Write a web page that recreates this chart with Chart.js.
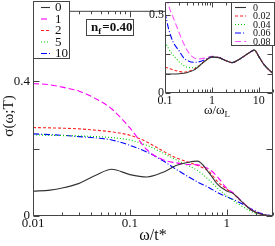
<!DOCTYPE html>
<html>
<head>
<meta charset="utf-8">
<script src="https://cdn.jsdelivr.net/npm/chart.js@4"></script>
<style>
  html, body { margin: 0; padding: 0; background: #fff; }
  #wrap { position: relative; width: 275px; height: 246px; }
  #wrap canvas { position: absolute; left: 0; top: 0; }
</style>
</head>
<body>
<div id="wrap">
  <canvas id="main" width="275" height="246"></canvas>
  <canvas id="inset" width="275" height="246"></canvas>
</div>
<script>
// ── DATA: main panel, sigma(omega;T) vs omega/t* ──
const omega = [0.01, 0.015, 0.02, 0.03, 0.045, 0.065, 0.1, 0.15, 0.22, 0.3, 0.4, 0.5, 0.65, 0.8, 1.0, 1.15, 1.4, 1.8, 2.3, 3];
const mainLabels = ['0', '1', '2', '5', '10'];
const sig0  = [0.074, 0.077, 0.083, 0.097, 0.122, 0.139, 0.123, 0.116, 0.130, 0.150, 0.160, 0.163, 0.130, 0.095, 0.074, 0.068, 0.045, 0.017, 0.005, 0.0];
const sig1  = [0.394, 0.390, 0.383, 0.371, 0.348, 0.318, 0.262, 0.197, 0.167, 0.158, 0.153, 0.152, 0.140, 0.117, 0.082, 0.070, 0.046, 0.018, 0.005, 0.0];
const sig2  = [0.263, 0.262, 0.261, 0.259, 0.255, 0.250, 0.240, 0.220, 0.193, 0.173, 0.160, 0.150, 0.133, 0.103, 0.080, 0.068, 0.045, 0.018, 0.005, 0.0];
const sig5  = [0.241, 0.240, 0.239, 0.238, 0.236, 0.233, 0.226, 0.210, 0.187, 0.167, 0.150, 0.135, 0.108, 0.083, 0.060, 0.047, 0.031, 0.013, 0.004, 0.0];
const sig10 = [0.244, 0.242, 0.240, 0.236, 0.232, 0.226, 0.210, 0.190, 0.164, 0.139, 0.117, 0.101, 0.085, 0.070, 0.057, 0.050, 0.038, 0.021, 0.007, 0.0];
const mainTickLabels = ['0.01', '0.1', '1'];
const mainYLabels = ['0', '0.4'];

// ── DATA: inset, omega/omega_L ──
const omegaL = [0.1, 0.12, 0.15, 0.2, 0.25, 0.3, 0.4, 0.5, 0.7, 1, 1.4, 2, 2.7, 4, 6, 8, 10, 13, 20];
const insetLabels = ['0', '0.02', '0.04', '0.06', '0.08'];
const ins0  = [0.073, 0.073, 0.073, 0.074, 0.076, 0.079, 0.087, 0.099, 0.122, 0.138, 0.136, 0.124, 0.117, 0.132, 0.153, 0.165, 0.140, 0.108, 0.075];
const ins2  = [0.100, 0.095, 0.089, 0.083, 0.080, 0.082, 0.090, 0.100, 0.122, 0.138, 0.136, 0.124, 0.117, 0.132, 0.153, 0.165, 0.140, 0.108, 0.075];
const ins4  = [0.196, 0.170, 0.145, 0.120, 0.106, 0.099, 0.097, 0.103, 0.122, 0.139, 0.136, 0.124, 0.117, 0.132, 0.153, 0.165, 0.140, 0.108, 0.075];
const ins6  = [0.310, 0.245, 0.195, 0.162, 0.135, 0.125, 0.118, 0.119, 0.127, 0.139, 0.136, 0.124, 0.117, 0.132, 0.153, 0.165, 0.140, 0.108, 0.075];
const ins8  = [0.400, 0.335, 0.290, 0.232, 0.190, 0.163, 0.137, 0.131, 0.134, 0.141, 0.137, 0.124, 0.117, 0.132, 0.153, 0.165, 0.140, 0.108, 0.075];
const insetTickLabels = ['0.1', '1', '10'];
const insetYLabels = ['0', '0.3'];

// ── STYLE ──
const SERIF = "'Liberation Serif', 'Times New Roman', serif";
const TXT = '#111';
const AX = '#444';
const mainStyles = [
  { color: '#333',    dash: [] },
  { color: '#ff00ff', dash: [6, 3] },
  { color: '#ff2020', dash: [3, 2] },
  { color: '#00d000', dash: [1, 2] },
  { color: '#0000ff', dash: [6, 2, 1, 2] }
];
const insetStyles = [
  { color: '#333',    dash: [] },
  { color: '#ff2020', dash: [3, 2] },
  { color: '#00d000', dash: [1, 2] },
  { color: '#0000ff', dash: [6, 2, 1, 2] },
  { color: '#ff55ff', dash: [6, 3] }
];

const isDecade = v => Math.abs(Math.log10(v) - Math.round(Math.log10(v))) < 1e-6;
const pickLabel = (list, v) => list.find(t => Math.abs(parseFloat(t) - v) < 1e-6) || '';

function makeSets(xs, series, labels, styles) {
  return series.map((s, i) => ({
    label: labels[i],
    data: xs.map((x, j) => ({ x, y: s[j] })),
    borderColor: styles[i].color,
    borderDash: styles[i].dash,
    borderWidth: 1.1,
    pointRadius: 0,
    fill: false,
    cubicInterpolationMode: 'monotone'
  }));
}

// frame + inward ticks on all four sides
function frameAndTicks(chart, yStep, majLen, minLen) {
  const { ctx, chartArea: a, scales: { x, y } } = chart;
  const L = a.left + 0.5, R = a.right - 0.5, T = a.top + 0.5, B = a.bottom - 0.5;
  ctx.save();
  ctx.strokeStyle = AX;
  ctx.lineWidth = 1;
  ctx.beginPath();
  ctx.rect(L, T, R - L, B - T);
  for (let e = Math.floor(Math.log10(x.min)); e <= Math.ceil(Math.log10(x.max)); e++) {
    for (let k = 1; k < 10; k++) {
      const v = k * Math.pow(10, e);
      if (v < x.min * 0.999 || v > x.max * 1.001) continue;
      const px = Math.round(x.getPixelForValue(v)) + 0.5;
      const len = k === 1 ? majLen : minLen;
      ctx.moveTo(px, B); ctx.lineTo(px, B - len);
      ctx.moveTo(px, T); ctx.lineTo(px, T + len);
    }
  }
  for (let v = y.min; v <= y.max + 1e-9; v += yStep) {
    const py = Math.round(y.getPixelForValue(v)) + 0.5;
    ctx.moveTo(L, py); ctx.lineTo(L + majLen, py);
    ctx.moveTo(R, py); ctx.lineTo(R - majLen, py);
  }
  ctx.stroke();
  ctx.restore();
}

function drawLegend(chart, box, rows, lineX, textX, font) {
  const { ctx } = chart;
  ctx.save();
  ctx.fillStyle = '#fff';
  ctx.fillRect(box.x, box.y, box.w, box.h);
  ctx.strokeStyle = AX;
  ctx.lineWidth = 1;
  ctx.strokeRect(box.x + 0.5, box.y + 0.5, box.w - 1, box.h - 1);
  ctx.font = font;
  ctx.textAlign = 'left';
  ctx.textBaseline = 'middle';
  ctx.fillStyle = TXT;
  chart.data.datasets.forEach((ds, i) => {
    const yy = rows[i];
    ctx.strokeStyle = ds.borderColor;
    ctx.lineWidth = ds.borderWidth;
    ctx.setLineDash(ds.borderDash || []);
    ctx.beginPath();
    ctx.moveTo(lineX[0], yy + 0.5);
    ctx.lineTo(lineX[1], yy + 0.5);
    ctx.stroke();
    ctx.setLineDash([]);
    ctx.fillText(ds.label, textX, yy + 1);
  });
  ctx.restore();
}

// ── MAIN CHART ──
const mainDecor = {
  id: 'mainDecor',
  afterDraw(chart) {
    frameAndTicks(chart, 0.2, 6, 3);
    drawLegend(chart, { x: 33, y: 1, w: 37, h: 58 }, [7, 18.5, 30, 41.5, 53], [41, 50], 55, '13px ' + SERIF);
    const { ctx } = chart;
    ctx.save();
    // n_f box
    ctx.strokeStyle = AX;
    ctx.lineWidth = 1;
    ctx.strokeRect(86.5, 19.5, 47, 16);
    ctx.fillStyle = TXT;
    ctx.textAlign = 'left';
    ctx.textBaseline = 'alphabetic';
    ctx.font = 'bold 13px ' + SERIF;
    ctx.fillText('n', 91, 31);
    const wn = ctx.measureText('n').width;
    ctx.font = 'bold 9px ' + SERIF;
    ctx.fillText('f', 91 + wn, 34);
    const wf = ctx.measureText('f').width;
    ctx.font = 'bold 13px ' + SERIF;
    ctx.fillText('=0.40', 91 + wn + wf + 1, 31);
    // y title
    ctx.translate(9, 116);
    ctx.rotate(-Math.PI / 2);
    ctx.textAlign = 'center';
    ctx.textBaseline = 'middle';
    ctx.font = '15px ' + SERIF;
    ctx.fillText('σ(ω;T)', 0, 0);
    ctx.restore();
  }
};

new Chart(document.getElementById('main').getContext('2d'), {
  type: 'line',
  data: { datasets: makeSets(omega, [sig0, sig1, sig2, sig5, sig10], mainLabels, mainStyles) },
  options: {
    responsive: false,
    animation: false,
    events: [],
    layout: { autoPadding: false, padding: { top: 1, right: 2, left: 0, bottom: 0 } },
    plugins: { legend: { display: false }, tooltip: { enabled: false } },
    scales: {
      x: {
        type: 'logarithmic',
        min: 0.01,
        max: 3,
        grid: { display: false, drawTicks: false },
        border: { display: false },
        title: { display: true, text: 'ω/t*', color: TXT, font: { family: SERIF, size: 16 }, padding: { top: 0, bottom: 1 } },
        ticks: {
          autoSkip: false, maxRotation: 0, padding: 0, color: TXT,
          font: { family: SERIF, size: 13 },
          callback: v => (isDecade(v) && mainTickLabels.includes(String(v))) ? String(v) : ''
        },
        afterFit: s => { s.height = 30; }
      },
      y: {
        min: 0,
        max: 0.61,
        grid: { display: false, drawTicks: false },
        border: { display: false },
        ticks: {
          stepSize: 0.2, padding: 3, color: TXT, autoSkip: false,
          font: { family: SERIF, size: 13 },
          callback: v => pickLabel(mainYLabels, v)
        },
        afterFit: s => { s.width = 33; }
      }
    }
  },
  plugins: [mainDecor]
});

// ── INSET (full-size transparent overlay, plot box placed by padding) ──
const insetDecor = {
  id: 'insetDecor',
  beforeDraw(chart) {
    const { ctx, chartArea: a } = chart;
    ctx.save();
    ctx.fillStyle = '#fff';
    ctx.fillRect(a.left, a.top, a.right - a.left, a.bottom - a.top);
    ctx.restore();
  },
  afterDraw(chart) {
    frameAndTicks(chart, 0.075, 5, 3);
    drawLegend(chart, { x: 231, y: 2, w: 44, h: 44 }, [7, 15.5, 24, 32.5, 41], [235, 246], 253, '10px ' + SERIF);
    const { ctx, chartArea: a, scales: { y } } = chart;
    ctx.save();
    ctx.fillStyle = TXT;
    // y tick labels, placed by the y scale
    ctx.font = '12px ' + SERIF;
    ctx.textAlign = 'right';
    ctx.textBaseline = 'middle';
    insetYLabels.forEach(t => ctx.fillText(t, a.left - 1, y.getPixelForValue(parseFloat(t))));
    // x title with subscript
    ctx.textAlign = 'left';
    ctx.textBaseline = 'alphabetic';
    ctx.font = '13px ' + SERIF;
    const w1 = ctx.measureText('ω/ω').width;
    ctx.font = '9px ' + SERIF;
    const w2 = ctx.measureText('L').width;
    const x0 = 217 - (w1 + w2) / 2;
    ctx.font = '13px ' + SERIF;
    ctx.fillText('ω/ω', x0, 114);
    ctx.font = '9px ' + SERIF;
    ctx.fillText('L', x0 + w1, 117);
    ctx.restore();
  }
};

new Chart(document.getElementById('inset').getContext('2d'), {
  type: 'line',
  data: { datasets: makeSets(omegaL, [ins0, ins2, ins4, ins6, ins8], insetLabels, insetStyles) },
  options: {
    responsive: false,
    animation: false,
    events: [],
    layout: { autoPadding: false, padding: { top: 2, right: 2, left: 140, bottom: 124 } },
    plugins: { legend: { display: false }, tooltip: { enabled: false } },
    scales: {
      x: {
        type: 'logarithmic',
        min: 0.1,
        max: 20,
        grid: { display: false, drawTicks: false },
        border: { display: false },
        ticks: {
          autoSkip: false, maxRotation: 0, padding: 1, color: TXT,
          font: { family: SERIF, size: 12 },
          callback: v => (isDecade(v) && insetTickLabels.includes(String(v))) ? String(v) : ''
        },
        afterFit: s => { s.height = 29; }
      },
      y: {
        min: 0,
        max: 0.35,
        grid: { display: false, drawTicks: false },
        border: { display: false },
        ticks: { display: false, stepSize: 0.075 },
        afterFit: s => { s.width = 25; }
      }
    }
  },
  plugins: [insetDecor]
});
</script>
</body>
</html>
